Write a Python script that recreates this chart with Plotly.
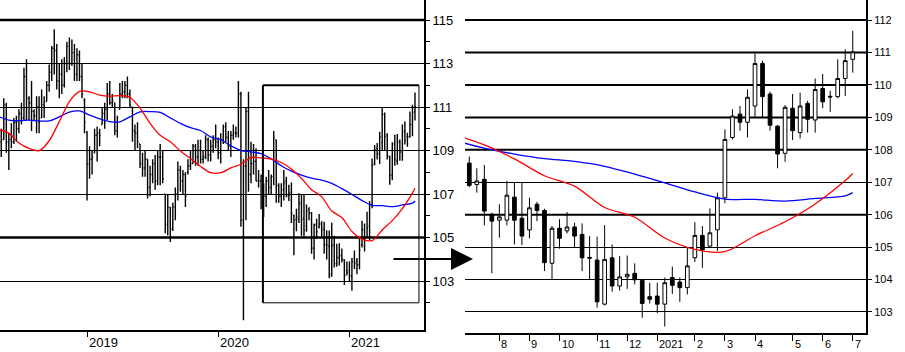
import pandas as pd
import plotly.graph_objects as go

# ---------------- data (weekly bars, Friday dates) ----------------
FIRST_FRIDAY = "2018-05-04"
N_WEEKS = 166
RIGHT_START = 114  # first week shown in the zoomed (right) panel

OPEN = [
    109.10, 109.40, 109.50, 111.10, 109.40, 109.50, 109.40, 110.30, 110.00, 110.70,
    110.50, 112.40, 111.40, 111.20, 110.80, 110.60, 111.00, 110.50, 111.10, 111.25,
    112.00, 112.60, 113.70, 113.60, 112.20, 112.50, 112.00, 113.00, 113.80, 113.00,
    113.50, 112.50, 113.40, 112.40, 111.30, 109.80, 108.40, 108.60, 108.90, 109.70,
    109.80, 110.20, 110.70, 110.90, 111.60, 111.20, 111.20, 109.90, 110.90, 111.60,
    111.70, 112.00, 111.60, 111.00, 109.90, 109.80, 109.30, 108.40, 108.20, 108.60,
    107.30, 107.90, 108.40, 107.60, 108.70, 108.70, 107.00, 105.60, 106.40, 105.40,
    106.40, 107.00, 108.10, 107.60, 107.90, 108.00, 108.30, 108.40, 109.20, 108.70,
    109.00, 108.60, 108.70, 109.50, 108.80, 109.20, 109.50, 109.40, 108.90, 109.50,
    110.10, 109.60, 109.20, 109.70, 109.80, 109.80, 111.60, 105.80, 108.30, 110.80,
    107.90, 108.40, 108.50, 107.60, 107.60, 106.60, 106.90, 107.60, 107.30, 107.80,
    109.50, 107.40, 106.90, 107.20, 107.59, 106.93, 107.09, 106.01, 105.83, 105.83,
    106.54, 105.89, 105.53, 106.32, 106.13, 104.50, 105.58, 105.50, 105.62, 105.39,
    104.68, 104.60, 103.24, 104.67, 103.80, 104.08, 104.19, 103.98, 103.47, 103.49,
    103.24, 104.06, 103.92, 103.75, 104.67, 105.36, 105.03, 105.53, 106.52, 108.38,
    109.10, 108.85, 109.35, 110.66, 109.72, 108.73, 107.89, 109.28, 108.53, 109.43,
    108.92, 109.89, 109.65, 109.64, 110.20, 110.79,
]
HIGH = [
    110.00, 110.00, 111.40, 111.20, 109.80, 110.25, 110.50, 110.60, 110.90, 111.20,
    112.80, 113.20, 111.50, 112.20, 110.90, 111.50, 111.50, 111.80, 111.50, 112.20,
    112.95, 113.80, 114.57, 113.90, 113.00, 113.20, 113.30, 114.00, 114.20, 114.10,
    113.90, 113.70, 113.60, 113.00, 111.40, 109.90, 109.20, 109.00, 110.00, 110.10,
    110.00, 111.00, 111.20, 112.10, 112.20, 111.60, 111.20, 110.60, 112.10, 112.20,
    112.20, 112.40, 111.80, 111.00, 110.20, 110.30, 109.30, 108.90, 109.00, 108.60,
    108.30, 108.60, 108.80, 109.00, 109.30, 109.00, 107.00, 107.00, 106.40, 106.60,
    107.30, 108.50, 108.30, 108.10, 108.00, 108.60, 109.00, 109.30, 109.30, 109.50,
    109.50, 109.00, 109.70, 109.60, 109.50, 109.70, 110.20, 109.60, 109.80, 110.20,
    110.30, 109.90, 109.90, 110.20, 110.10, 112.20, 111.70, 108.60, 111.00, 111.70,
    109.40, 109.30, 109.10, 108.10, 107.90, 107.50, 107.80, 108.10, 107.90, 109.90,
    109.50, 107.50, 107.50, 108.10, 107.79, 107.43, 107.53, 106.06, 106.32, 107.04,
    106.99, 106.99, 106.52, 106.39, 106.18, 105.65, 105.86, 106.08, 105.75, 105.73,
    105.34, 105.32, 105.68, 105.08, 104.72, 104.74, 104.50, 104.00, 103.90, 103.90,
    104.06, 104.40, 104.06, 104.98, 105.77, 105.65, 106.19, 106.68, 108.63, 109.25,
    109.35, 109.86, 110.97, 110.75, 109.79, 108.76, 109.38, 109.72, 109.76, 109.51,
    110.20, 110.34, 109.82, 110.79, 111.10, 111.67,
]
LOW = [
    108.60, 108.70, 109.50, 108.90, 108.10, 109.10, 109.30, 109.40, 109.80, 110.20,
    110.40, 110.40, 110.40, 109.90, 110.40, 109.80, 109.80, 110.50, 110.50, 111.25,
    111.70, 112.20, 112.50, 111.80, 111.40, 111.60, 111.90, 112.60, 112.70, 112.90,
    112.20, 112.20, 112.20, 111.40, 109.80, 106.70, 107.70, 107.90, 108.90, 108.50,
    109.20, 110.20, 110.00, 110.40, 111.10, 111.00, 109.70, 109.60, 110.90, 111.40,
    111.40, 111.40, 111.00, 109.40, 109.00, 109.10, 108.20, 107.80, 107.80, 106.80,
    106.90, 107.50, 107.20, 107.40, 107.40, 107.50, 105.20, 105.10, 104.80, 105.30,
    105.80, 106.70, 107.10, 107.00, 106.40, 107.90, 108.10, 108.40, 108.30, 108.30,
    108.40, 108.40, 108.60, 108.50, 108.50, 108.90, 109.10, 108.60, 108.40, 109.30,
    109.40, 109.00, 108.70, 109.50, 109.60, 109.60, 105.50, 101.20, 105.80, 107.10,
    107.50, 107.90, 107.60, 107.30, 106.30, 105.95, 106.40, 107.00, 107.00, 107.40,
    106.60, 106.60, 106.40, 106.70, 106.85, 106.68, 105.67, 104.19, 105.29, 105.67,
    105.08, 105.06, 105.27, 105.80, 104.26, 103.99, 104.95, 105.42, 104.98, 104.26,
    103.99, 103.13, 103.20, 103.62, 103.66, 103.71, 103.85, 102.82, 103.26, 102.96,
    102.55, 103.55, 103.31, 103.54, 104.54, 104.36, 104.98, 104.88, 106.35, 108.32,
    108.59, 108.38, 109.00, 108.99, 108.59, 107.43, 107.63, 108.30, 108.35, 108.53,
    108.53, 109.28, 109.17, 109.59, 109.66, 110.38,
]
CLOSE = [
    109.40, 109.50, 111.10, 109.40, 109.50, 109.40, 110.30, 110.00, 110.70, 110.50,
    112.40, 111.40, 111.20, 110.80, 110.60, 111.00, 110.30, 111.10, 111.00, 112.00,
    112.60, 113.70, 113.60, 112.20, 112.50, 112.00, 113.00, 113.80, 113.00, 113.50,
    112.50, 113.40, 112.40, 111.60, 110.30, 108.40, 108.60, 108.70, 109.70, 109.80,
    109.70, 110.70, 110.90, 111.60, 111.20, 111.30, 109.90, 110.50, 111.60, 111.70,
    112.00, 111.60, 111.10, 109.90, 109.80, 109.40, 108.40, 108.20, 108.60, 107.30,
    107.90, 108.40, 107.60, 108.70, 108.70, 107.70, 105.60, 106.40, 105.40, 106.40,
    107.00, 108.10, 107.60, 107.90, 106.90, 108.30, 108.40, 109.20, 108.70, 109.00,
    108.60, 108.70, 109.50, 108.80, 109.20, 109.50, 109.40, 108.90, 109.50, 110.10,
    109.60, 109.20, 109.70, 109.80, 109.80, 111.60, 105.80, 108.30, 110.80, 107.90,
    108.40, 108.50, 107.60, 107.60, 106.60, 106.90, 107.60, 107.30, 107.80, 109.60,
    107.40, 106.90, 107.20, 107.50, 106.90, 107.04, 106.11, 105.80, 105.93, 106.60,
    105.83, 105.34, 106.21, 106.13, 104.52, 105.58, 105.27, 105.62, 105.34, 104.67,
    104.66, 103.31, 104.62, 103.80, 104.08, 104.16, 103.99, 103.26, 103.39, 103.24,
    103.90, 103.82, 103.75, 104.42, 105.36, 104.91, 105.44, 106.52, 108.32, 109.04,
    108.85, 109.62, 110.66, 109.64, 108.76, 107.87, 109.31, 108.59, 109.35, 108.94,
    109.86, 109.48, 109.63, 110.20, 110.75, 111.02,
]

# moving averages at these week indices
MA_WEEK_IDX = [0, 4, 8, 12, 16, 20, 24, 28, 32, 36, 40, 44, 48, 52, 56, 60, 64, 68,
               72, 76, 80, 84, 88, 92, 96, 100, 104, 108, 112, 116, 120, 124, 128,
               132, 136, 140, 144, 148, 152, 156, 160, 164, 165]
MA_RED = [109.97, 109.80, 109.35, 109.10, 108.99, 109.45, 110.33, 111.25, 111.72,
          111.70, 111.55, 111.50, 111.52, 111.45, 110.95, 110.25, 109.70, 109.40,
          108.98, 108.63, 108.27, 107.98, 107.98, 108.20, 108.37, 108.68, 108.66,
          108.61, 108.45, 108.15, 107.72, 107.20, 106.88, 106.22, 105.92, 105.28,
          104.93, 104.86, 105.35, 105.78, 106.33, 107.05, 107.27]
MA_BLUE = [110.56, 110.40, 110.37, 110.40, 110.36, 110.36, 110.55, 110.77, 110.82,
           110.63, 110.45, 110.33, 110.32, 110.55, 110.78, 110.79, 110.75, 110.50,
           110.25, 110.05, 109.92, 109.63, 109.50, 109.22, 109.00, 108.94, 108.86,
           108.62, 108.30, 108.05, 107.87, 107.73, 107.64, 107.49, 107.25, 106.98,
           106.70, 106.48, 106.47, 106.42, 106.50, 106.58, 106.68]

LEFT_TICK_DATES = ["2019-01-04", "2020-01-03", "2021-01-01"]
LEFT_TICK_TEXT = ["2019", "2020", "2021"]
RIGHT_TICK_DATES = ["2020-08-07", "2020-09-04", "2020-10-02", "2020-11-06",
                    "2020-12-04", "2021-01-01", "2021-02-05", "2021-03-05",
                    "2021-04-02", "2021-05-07", "2021-06-04", "2021-07-02"]
RIGHT_TICK_TEXT = ["8", "9", "10", "11", "12", "2021", "2", "3", "4", "5", "6", "7"]

LEFT_Y_LABELS = [103, 105, 107, 109, 111, 113, 115]
LEFT_Y_MINOR = [102, 104, 106, 108, 110, 112, 114]
LEFT_Y_THICK = [105, 115]
RIGHT_Y_LABELS = [103, 104, 105, 106, 107, 108, 109, 110, 111, 112]
RIGHT_Y_THICK = [106, 108, 109, 110, 111, 112]

ZOOM_START, ZOOM_END = "2020-05-06", "2021-07-13"
ZOOM_LOW, ZOOM_HIGH = 102.0, 112.0

# ---------------- figure ----------------
W, H = 905, 352
weeks = pd.date_range(FIRST_FRIDAY, periods=N_WEEKS, freq="7D")
ma_dates = weeks[MA_WEEK_IDX]
FONT = "Liberation Sans, Arial, sans-serif"

fig = go.Figure()

# left panel
fig.add_trace(go.Scatter(x=ma_dates, y=MA_BLUE, mode="lines",
                         line=dict(color="#0000ff", width=1.3, shape="spline", smoothing=0.8),
                         xaxis="x", yaxis="y", hoverinfo="skip"))
fig.add_trace(go.Scatter(x=ma_dates, y=MA_RED, mode="lines",
                         line=dict(color="#ff0000", width=1.3, shape="spline", smoothing=0.8),
                         xaxis="x", yaxis="y", hoverinfo="skip"))
fig.add_trace(go.Ohlc(x=weeks, open=OPEN, high=HIGH, low=LOW, close=CLOSE,
                      increasing=dict(line=dict(color="black", width=1.4)),
                      decreasing=dict(line=dict(color="black", width=1.4)),
                      tickwidth=0.4, xaxis="x", yaxis="y", hoverinfo="skip"))

# right panel
sel = [j for j, k in enumerate(MA_WEEK_IDX) if k >= 108]
fig.add_trace(go.Scatter(x=[ma_dates[j] for j in sel], y=[MA_BLUE[j] for j in sel],
                         mode="lines",
                         line=dict(color="#0000ff", width=1.3, shape="spline", smoothing=0.8),
                         xaxis="x2", yaxis="y2", hoverinfo="skip"))
fig.add_trace(go.Scatter(x=[ma_dates[j] for j in sel], y=[MA_RED[j] for j in sel],
                         mode="lines",
                         line=dict(color="#ff0000", width=1.3, shape="spline", smoothing=0.8),
                         xaxis="x2", yaxis="y2", hoverinfo="skip"))
fig.add_trace(go.Candlestick(
    x=weeks[RIGHT_START:], open=OPEN[RIGHT_START:], high=HIGH[RIGHT_START:],
    low=LOW[RIGHT_START:], close=CLOSE[RIGHT_START:],
    increasing=dict(line=dict(color="black", width=1), fillcolor="white"),
    decreasing=dict(line=dict(color="black", width=1), fillcolor="black"),
    whiskerwidth=0, xaxis="x2", yaxis="y2", hoverinfo="skip"))

shapes = []
for v in LEFT_Y_THICK:
    shapes.append(dict(type="line", xref="x domain", yref="y", x0=0, x1=1, y0=v, y1=v,
                       line=dict(color="black", width=2.5), layer="below"))
for v in RIGHT_Y_THICK:
    shapes.append(dict(type="line", xref="x2 domain", yref="y2", x0=0, x1=1, y0=v, y1=v,
                       line=dict(color="black", width=2), layer="below"))
# zoom window rectangle on the left panel
box = [((ZOOM_START, ZOOM_HIGH), (ZOOM_END, ZOOM_HIGH), 2),
       ((ZOOM_START, ZOOM_LOW), (ZOOM_START, ZOOM_HIGH), 2),
       ((ZOOM_END, ZOOM_LOW), (ZOOM_END, ZOOM_HIGH), 1),
       ((ZOOM_START, ZOOM_LOW), (ZOOM_END, ZOOM_LOW), 1)]
for (a, b, w) in box:
    shapes.append(dict(type="line", xref="x", yref="y", x0=a[0], y0=a[1], x1=b[0], y1=b[1],
                       line=dict(color="black", width=w), layer="above"))

annotations = []
for d, t in zip(LEFT_TICK_DATES, LEFT_TICK_TEXT):
    annotations.append(dict(x=d, xref="x", y=1 - 342 / H, yref="paper", text=t,
                            showarrow=False, xanchor="left", yanchor="middle", xshift=0,
                            font=dict(family=FONT, size=13, color="black")))
for d, t in zip(RIGHT_TICK_DATES, RIGHT_TICK_TEXT):
    annotations.append(dict(x=d, xref="x2", y=1 - 344 / H, yref="paper", text=t,
                            showarrow=False, xanchor="left", yanchor="middle", xshift=0,
                            font=dict(family=FONT, size=11, color="black")))
# arrow from the zoom box to the zoomed panel
annotations.append(dict(x=473 / W, y=1 - 259 / H, xref="paper", yref="paper",
                        ax=-81, ay=0, text="", showarrow=True, arrowhead=2,
                        arrowsize=2.2, arrowwidth=2, arrowcolor="black"))

axis_common = dict(showline=True, linecolor="black", linewidth=2, zeroline=False,
                   tickcolor="black", mirror=False)

fig.update_layout(
    width=W, height=H, margin=dict(l=0, r=0, t=0, b=0),
    paper_bgcolor="white", plot_bgcolor="white", showlegend=False,
    font=dict(family=FONT, color="black"),
    xaxis=dict(domain=[0, 424 / W], type="date", range=["2018-05-07 12:00", "2021-07-27"],
               ticks="outside", ticklen=5, tickvals=LEFT_TICK_DATES, showticklabels=False,
               showgrid=False, anchor="y", rangeslider=dict(visible=False), **axis_common),
    yaxis=dict(domain=[22 / H, 1], range=[100.75, 115.92], side="right", anchor="x",
               tickvals=LEFT_Y_LABELS, ticktext=[str(v) for v in LEFT_Y_LABELS],
               ticks="outside", ticklen=4, showgrid=True, gridcolor="black", gridwidth=1,
               tickfont=dict(size=13, family=FONT),
               minor=dict(tickvals=LEFT_Y_MINOR, ticks="outside", ticklen=4,
                          tickcolor="black", showgrid=False),
               **axis_common),
    xaxis2=dict(domain=[465 / W, 866 / W], type="date",
                range=["2020-07-06", "2021-07-14 08:00"],
                ticks="outside", ticklen=6, tickvals=RIGHT_TICK_DATES, showticklabels=False,
                showgrid=False, anchor="y2", rangeslider=dict(visible=False), **axis_common),
    yaxis2=dict(domain=[19 / H, 1], range=[102.35, 112.62], side="right", anchor="x2",
                tickvals=RIGHT_Y_LABELS, ticktext=[str(v) for v in RIGHT_Y_LABELS],
                ticks="outside", ticklen=4, showgrid=True, gridcolor="black", gridwidth=1,
                tickfont=dict(size=11, family=FONT), **axis_common),
    shapes=shapes, annotations=annotations,
)

fig.write_html("out.html", config={"displayModeBar": False})
